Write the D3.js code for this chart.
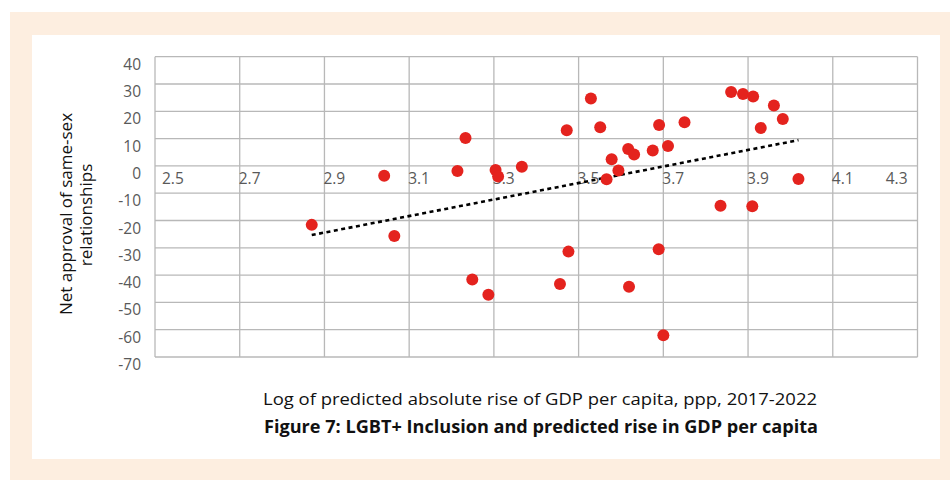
<!DOCTYPE html>
<html>
<head>
<meta charset="utf-8">
<script src="https://cdn.jsdelivr.net/npm/d3@7"></script>
<style>
  html, body { margin: 0; padding: 0; background: #fff; }
  svg { display: block; }
</style>
</head>
<body>
<svg id="canvas" width="950" height="480"></svg>
<script>
// log of predicted rise in GDP per capita (x) vs net approval (y)
const gdpLog = [
  2.870, 3.041, 3.065, 3.214, 3.233, 3.304, 3.310, 3.366, 3.472, 3.529,
  3.551, 3.578, 3.566, 3.594, 3.617, 3.631, 3.675, 3.690, 3.711, 3.750,
  3.860, 3.888, 3.912, 3.961, 3.982, 3.930, 4.019, 3.835, 3.910, 3.249,
  3.287, 3.456, 3.476, 3.619, 3.689, 3.700
];
const netApproval = [
  -21.6, -3.6, -25.7, -1.9, 10.2, -1.5, -3.9, -0.3, 13.1, 24.7,
  14.2, 2.4, -4.9, -1.7, 6.2, 4.2, 5.6, 15.0, 7.3, 16.0,
  27.1, 26.3, 25.4, 22.1, 17.2, 13.9, -4.8, -14.6, -14.8, -41.6,
  -47.2, -43.3, -31.4, -44.3, -30.5, -62.0
];
const xTicks = [2.5, 2.7, 2.9, 3.1, 3.3, 3.5, 3.7, 3.9, 4.1, 4.3];
const yTicks = [40, 30, 20, 10, 0, -10, -20, -30, -40, -50, -60, -70];

const svg = d3.select("#canvas");

// peach frame + white panel
svg.append("rect").attr("x", 10).attr("y", 12).attr("width", 950).attr("height", 480).attr("fill", "#fdeee0");
svg.append("rect").attr("x", 32).attr("y", 35).attr("width", 908).attr("height", 424).attr("fill", "#fff");

const x = d3.scaleLinear().domain([2.5, 4.3]).range([155, 917.5]);
const y = d3.scaleLinear().domain([-70, 40]).range([357, 56.7]);

// grid
svg.append("g")
  .selectAll("line")
  .data(yTicks)
  .enter()
  .append("line")
  .attr("x1", x(2.5)).attr("x2", x(4.3))
  .attr("y1", (d) => y(d)).attr("y2", (d) => y(d))
  .attr("stroke", "#b8b8b8").attr("stroke-width", 1.3);

svg.append("g")
  .selectAll("line")
  .data(xTicks)
  .enter()
  .append("line")
  .attr("x1", (d) => x(d)).attr("x2", (d) => x(d))
  .attr("y1", y(40)).attr("y2", y(-70))
  .attr("stroke", "#b8b8b8").attr("stroke-width", 1.3);

// tick labels
svg.append("g")
  .selectAll("text")
  .data(yTicks)
  .enter()
  .append("text")
  .attr("x", 141)
  .attr("y", (d) => y(d) + 13)
  .attr("text-anchor", "end")
  .style("font-family", "'Open Sans', sans-serif")
  .style("font-size", "15.5px")
  .attr("fill", "#595959")
  .text((d) => d);

svg.append("g")
  .selectAll("text")
  .data(xTicks)
  .enter()
  .append("text")
  .attr("x", (d, i) => (i === 0 ? x(d) + 7 : i === xTicks.length - 1 ? x(d) - 10 : x(d) - 1))
  .attr("y", y(0) + 18)
  .attr("text-anchor", (d, i) => (i === xTicks.length - 1 ? "end" : "start"))
  .style("font-family", "'Open Sans', sans-serif")
  .style("font-size", "15.5px")
  .attr("fill", "#595959")
  .text((d) => d.toFixed(1));

// linear trendline (least squares)
const n = gdpLog.length;
const mx = d3.mean(gdpLog);
const my = d3.mean(netApproval);
let sxy = 0, sxx = 0;
for (let i = 0; i < n; i++) {
  sxy += (gdpLog[i] - mx) * (netApproval[i] - my);
  sxx += (gdpLog[i] - mx) ** 2;
}
const slope = sxy / sxx;
const icpt = my - slope * mx;
const [x0, x1] = d3.extent(gdpLog);

svg.append("line")
  .attr("x1", x(x0)).attr("y1", y(icpt + slope * x0))
  .attr("x2", x(x1)).attr("y2", y(icpt + slope * x1))
  .attr("stroke", "#000")
  .attr("stroke-width", 2.6)
  .attr("stroke-dasharray", "4,3.5");

// points
svg.append("g")
  .selectAll("circle")
  .data(gdpLog.map((g, i) => [g, netApproval[i]]))
  .enter()
  .append("circle")
  .attr("cx", (d) => x(d[0]))
  .attr("cy", (d) => y(d[1]))
  .attr("r", 6)
  .attr("fill", "#e4231e");

// axis titles
svg.append("text")
  .attr("transform", "translate(71.5,214) rotate(-90)")
  .attr("text-anchor", "middle")
  .style("font-family", "'Open Sans', sans-serif")
  .style("font-size", "17px")
  .attr("fill", "#111")
  .text("Net approval of same-sex");
svg.append("text")
  .attr("transform", "translate(92,215) rotate(-90)")
  .attr("text-anchor", "middle")
  .style("font-family", "'Open Sans', sans-serif")
  .style("font-size", "17px")
  .attr("fill", "#111")
  .text("relationships");

svg.append("text")
  .attr("x", 263)
  .attr("y", 404.5)
  .attr("textLength", 554)
  .attr("lengthAdjust", "spacingAndGlyphs")
  .style("font-family", "'Open Sans', sans-serif")
  .style("font-size", "17px")
  .attr("fill", "#111")
  .text("Log of predicted absolute rise of GDP per capita, ppp, 2017-2022");

svg.append("text")
  .attr("x", 264)
  .attr("y", 433)
  .attr("textLength", 554)
  .attr("lengthAdjust", "spacingAndGlyphs")
  .style("font-family", "'Open Sans', sans-serif")
  .style("font-size", "17px")
  .style("font-weight", "bold")
  .attr("fill", "#111")
  .text("Figure 7: LGBT+ Inclusion and predicted rise in GDP per capita");
</script>
</body>
</html>
